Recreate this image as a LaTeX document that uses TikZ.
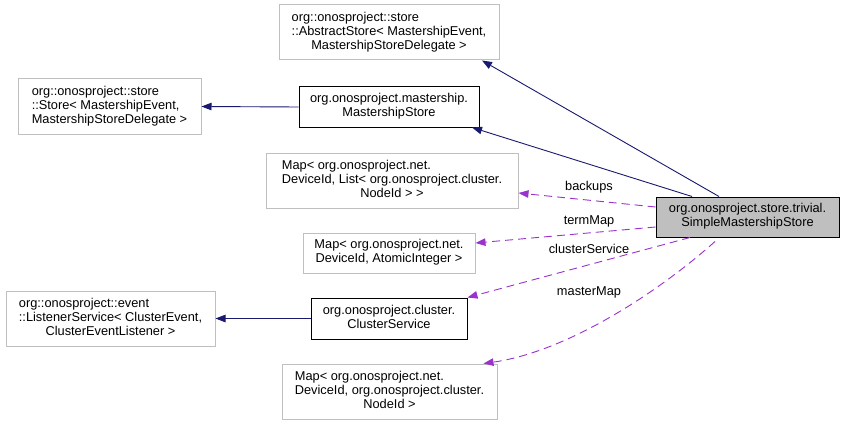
\documentclass[tikz,border=0pt]{standalone}
\usepackage{fontspec}
\setmainfont{Liberation Sans}
\usetikzlibrary{arrows.meta}
\definecolor{navy}{HTML}{191970}
\definecolor{orchid}{HTML}{9A32CD}
\definecolor{boxgray}{HTML}{BFBFBF}
\newcommand{\lbl}[2]{\begin{tabular}{@{}l@{}}#1\\\multicolumn{1}{@{}c@{}}{#2}\end{tabular}}
\begin{document}
\begin{tikzpicture}[x=1pt,y=-1pt,
  every node/.style={font=\fontsize{12.8}{14}\selectfont},
  cls/.style={draw=boxgray,line width=1pt,fill=white,inner sep=0pt,minimum width=#1},
  clsb/.style={draw=black,line width=1pt,fill=white,inner sep=0pt,minimum width=#1},
  inh/.style={draw=navy,line width=0.9pt,-{Triangle[length=10pt,width=7.5pt,fill=navy]}},
  use/.style={draw=orchid,line width=0.9pt,dash pattern=on 8pt off 5pt,-{Triangle[length=10pt,width=7.5pt,fill=orchid]}},
  elab/.style={inner sep=0pt}]
\useasboundingbox (0,0) rectangle (845,425);
\fill[white] (0,0) rectangle (845,425);
\node[cls=220pt,minimum height=55pt] (abs) at (389,32.5)
  {\lbl{org::onosproject::store\\::AbstractStore< MastershipEvent,}{MastershipStoreDelegate >}};
\node[cls=183pt,minimum height=55pt] (store) at (109.5,106.5)
  {\lbl{org::onosproject::store\\::Store< MastershipEvent,}{MastershipStoreDelegate >}};
\node[clsb=180pt,minimum height=40pt] (ms) at (389,107)
  {\lbl{org.onosproject.mastership.}{MastershipStore}};
\node[cls=252pt,minimum height=55pt] (bk) at (392,180.5)
  {\lbl{Map< org.onosproject.net.\\DeviceId, List< org.onosproject.cluster.}{NodeId > >}};
\node[cls=172pt,minimum height=40pt] (tm) at (389,253)
  {\lbl{Map< org.onosproject.net.}{DeviceId, AtomicInteger >}};
\node[cls=209pt,minimum height=55pt] (ls) at (110.5,318.5)
  {\lbl{org::onosproject::event\\::ListenerService< ClusterEvent,}{ClusterEventListener >}};
\node[clsb=156pt,minimum height=41pt] (cs) at (389,318.5)
  {\lbl{org.onosproject.cluster.}{ClusterService}};
\node[cls=215pt,minimum height=55pt] (mm) at (389.5,391.5)
  {\lbl{Map< org.onosproject.net.\\DeviceId, org.onosproject.cluster.}{NodeId >}};
\node[draw=black,line width=1pt,fill=boxgray,inner sep=0pt,minimum width=183pt,minimum height=40pt] (sms) at (747.5,217)
  {\lbl{org.onosproject.store.trivial.}{SimpleMastershipStore}};

\draw[inh] ([xshift=-28.5pt]sms.north) -- ([xshift=93pt]abs.south);
\draw[inh] ([xshift=-55.5pt]sms.north) -- ([xshift=83pt]ms.south);
\draw[inh] (ms.west) -- (store.east);
\draw[inh] (cs.west) -- (ls.east);

\draw[use] ([yshift=10pt]sms.west) -- ([yshift=-12.5pt]bk.east);
\draw[use] ([yshift=-10pt]sms.west) -- ([yshift=10pt]tm.east);
\draw[use] ([xshift=-57.5pt]sms.south) -- (cs.north east);
\draw[use] ([xshift=-32.5pt,yshift=-4pt]sms.south) .. controls (655,295) and (565,352) .. ([xshift=94pt]mm.north);

\node[elab] (lbk) at (589,187) {backups};
\node[elab] (ltm) at (589,221) {termMap};
\node[elab] (lcs) at (589,249) {clusterService};
\node[elab] (lmm) at (589,292) {masterMap};
\end{tikzpicture}
\end{document}
